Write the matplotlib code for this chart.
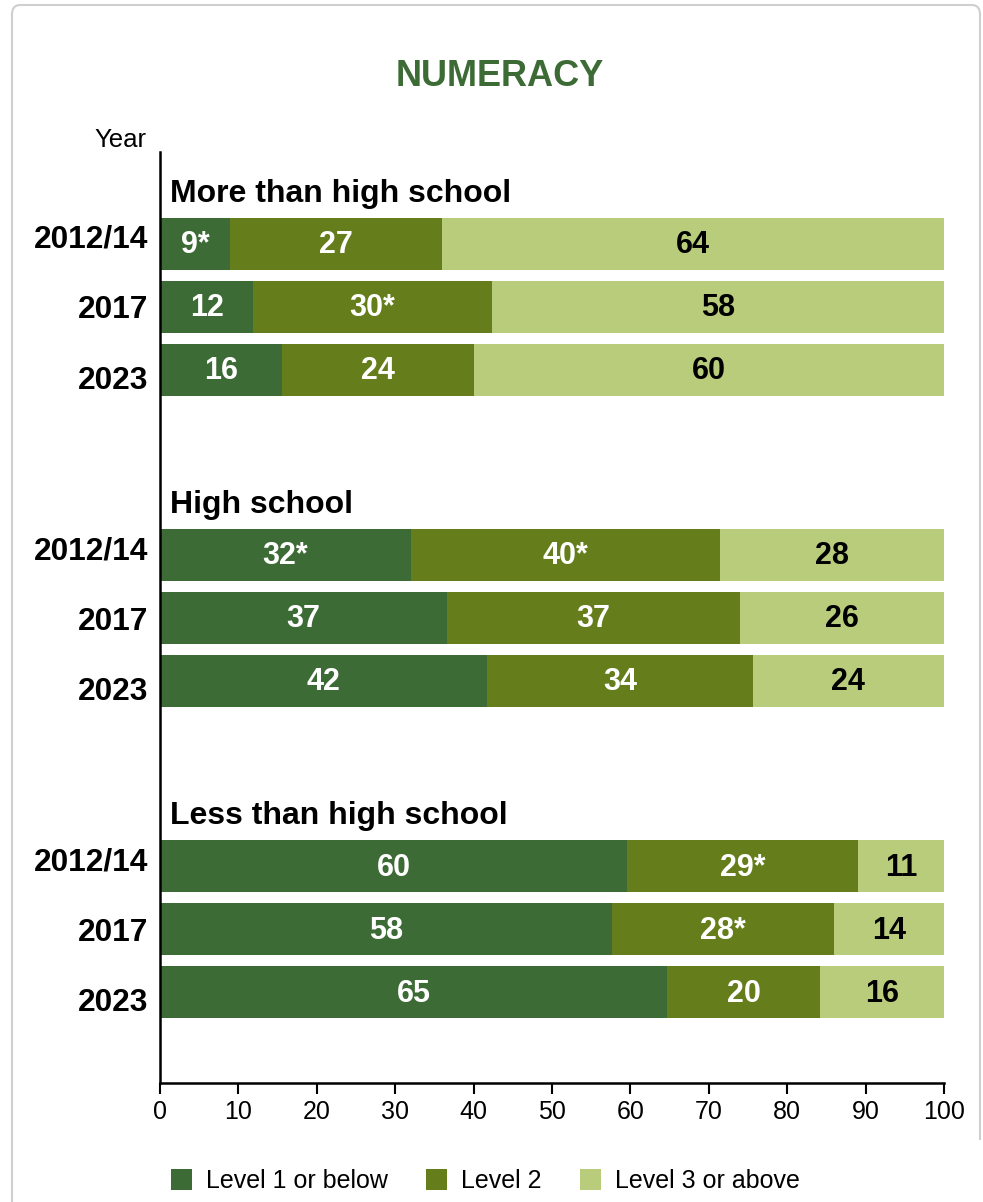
import matplotlib.pyplot as plt
from matplotlib.patches import Patch, FancyBboxPatch, Rectangle

plt.rcParams['font.family'] = ['Liberation Sans', 'DejaVu Sans']

groups = ["More than high school", "High school", "Less than high school"]
years = ["2012/14", "2017", "2023"]
series = ["Level 1 or below", "Level 2", "Level 3 or above"]

# bar widths (percent), per group then year
level1 = [[8.9, 11.9, 15.6], [32.0, 36.6, 41.7], [59.6, 57.7, 64.7]]
level2 = [[27.1, 30.4, 24.4], [39.4, 37.4, 33.9], [29.4, 28.3, 19.5]]
level3 = [[64.0, 57.7, 60.0], [28.6, 26.0, 24.4], [11.0, 14.0, 15.8]]

# printed labels
lab1 = [["9*", "12", "16"], ["32*", "37", "42"], ["60", "58", "65"]]
lab2 = [["27", "30*", "24"], ["40*", "37", "34"], ["29*", "28*", "20"]]
lab3 = [["64", "58", "60"], ["28", "26", "24"], ["11", "14", "16"]]

colors = ["#3d6b35", "#657d1b", "#b8cc7c"]
text_colors = ["white", "white", "black"]

fig = plt.figure(figsize=(9.83, 12.02), dpi=100)

# card border
card = FancyBboxPatch((12 / 983, -0.05), 968 / 983, 1 - 5 / 1202 + 0.05,
                      boxstyle="round,pad=0,rounding_size=0.008",
                      transform=fig.transFigure, fill=False,
                      edgecolor="#cfcfcf", linewidth=1.5)
fig.patches.append(card)
fig.patches.append(Rectangle((975 / 983, 0), 10 / 983, 1 - 1140 / 1202,
                             transform=fig.transFigure, facecolor="white",
                             edgecolor="none"))

ax = fig.add_axes([160 / 983, 1 - 1083 / 1202, 784 / 983, 931 / 1202])

row_step = 1.0
group_step = 4.94
first = 1.46
bar_h = 0.83
label_spread = 0.12  # year labels are spaced a bit wider than the bars

ypos, ylabels = [], []
for g, gname in enumerate(groups):
    for r, yr in enumerate(years):
        y = first + g * group_step + r * row_step
        ypos.append(y + (r - 1) * label_spread)
        ylabels.append(yr)
        vals = [level1[g][r], level2[g][r], level3[g][r]]
        labs = [lab1[g][r], lab2[g][r], lab3[g][r]]
        left = 0
        for k in range(3):
            ax.barh(y, vals[k], left=left, height=bar_h, color=colors[k],
                    edgecolor="none")
            ax.text(left + vals[k] / 2, y + 0.02, labs[k], ha="center",
                    va="center", fontsize=22, fontweight="bold",
                    color=text_colors[k])
            left += vals[k]
    ax.text(1.3, first + g * group_step - 0.8, gname, ha="left",
            va="center", fontsize=23, fontweight="bold")

ax.set_xlim(0, 100)
ax.set_ylim(14.78, 0)
ax.set_xticks(range(0, 101, 10))
ax.tick_params(axis="x", labelsize=18, length=8, width=1.5, pad=4)
ax.set_yticks(ypos)
ax.set_yticklabels(ylabels, fontsize=22.8, fontweight="bold")
ax.tick_params(axis="y", length=0, pad=8.5)
for s in ["top", "right"]:
    ax.spines[s].set_visible(False)
for s in ["left", "bottom"]:
    ax.spines[s].set_linewidth(1.8)

fig.text(500 / 983, 1 - 76 / 1202, "NUMERACY", ha="center", va="center",
         fontsize=26, fontweight="bold", color="#3d6b35")
fig.text(146 / 983, 1 - 140 / 1202, "Year", ha="right", va="center",
         fontsize=18.5)

handles = [Patch(facecolor=c, edgecolor="none") for c in colors]
fig.legend(handles, series, loc="center", bbox_to_anchor=(0.4939, 0.0175),
           ncol=3, frameon=False, fontsize=18, handlelength=0.84,
           handleheight=0.88, handletextpad=0.56, columnspacing=1.52)

fig.savefig("out.png", dpi=100, facecolor="white")
